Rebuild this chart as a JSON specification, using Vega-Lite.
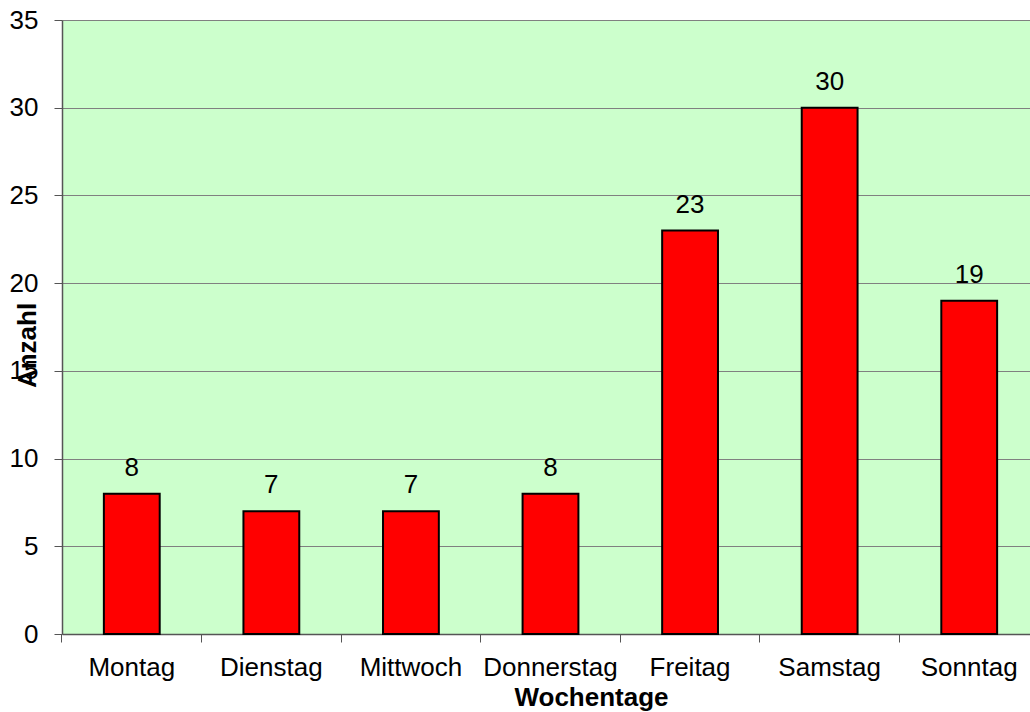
{
  "$schema": "https://vega.github.io/schema/vega-lite/v6.json",
  "width": 968,
  "height": 614,
  "autosize": {"type": "none"},
  "padding": {"left": 62, "top": 20, "right": 0, "bottom": 78},
  "background": "white",
  "config": {
    "font": "Liberation Sans",
    "view": {"fill": "#CCFFCC", "stroke": null}
  },
  "data": {
    "values": [
      {"tag": "Montag", "anzahl": 8},
      {"tag": "Dienstag", "anzahl": 7},
      {"tag": "Mittwoch", "anzahl": 7},
      {"tag": "Donnerstag", "anzahl": 8},
      {"tag": "Freitag", "anzahl": 23},
      {"tag": "Samstag", "anzahl": 30},
      {"tag": "Sonntag", "anzahl": 19}
    ]
  },
  "encoding": {
    "x": {
      "field": "tag",
      "type": "nominal",
      "sort": null,
      "scale": {"range": [0, 977], "paddingInner": 0.6, "paddingOuter": 0.3},
      "axis": {
        "title": "Wochentage",
        "titleFont": "Liberation Sans",
        "titleFontSize": 26,
        "titleFontWeight": "bold",
        "titleColor": "black",
        "titleX": 529,
        "titleY": 71,
        "titleAlign": "center",
        "titleBaseline": "alphabetic",
        "labelAngle": 0,
        "labelFont": "Liberation Sans",
        "labelFontSize": 26,
        "labelColor": "black",
        "labelBaseline": "alphabetic",
        "labelPadding": 33,
        "ticks": true,
        "bandPosition": -0.75,
        "tickSize": 8,
        "tickWidth": 1,
        "tickColor": "#555555",
        "domainColor": "#555555",
        "domainWidth": 1.5,
        "grid": false
      }
    },
    "y": {
      "field": "anzahl",
      "type": "quantitative",
      "scale": {"domain": [0, 35], "nice": false},
      "axis": {
        "title": "Anzahl",
        "titleFont": "Liberation Sans",
        "titleFontSize": 26,
        "titleFontWeight": "bold",
        "titleColor": "black",
        "titleAngle": -90,
        "titleX": -35,
        "titleY": 325,
        "titleAlign": "center",
        "titleBaseline": "middle",
        "values": [0, 5, 10, 15, 20, 25, 30, 35],
        "labelFont": "Liberation Sans",
        "labelFontSize": 26,
        "labelColor": "black",
        "labelPadding": 16,
        "labelBaseline": "middle",
        "ticks": true,
        "tickSize": 8,
        "tickColor": "#555555",
        "domainColor": "#555555",
        "domainWidth": 1.5,
        "grid": true,
        "gridColor": "#808080",
        "gridWidth": 1.2
      }
    }
  },
  "layer": [
    {
      "mark": {"type": "bar", "color": "#FF0000", "stroke": "black", "strokeWidth": 2}
    },
    {
      "mark": {"type": "text", "fontSize": 26, "font": "Liberation Sans", "color": "black", "baseline": "alphabetic", "dy": -18},
      "encoding": {"text": {"field": "anzahl", "type": "quantitative"}}
    }
  ]
}
